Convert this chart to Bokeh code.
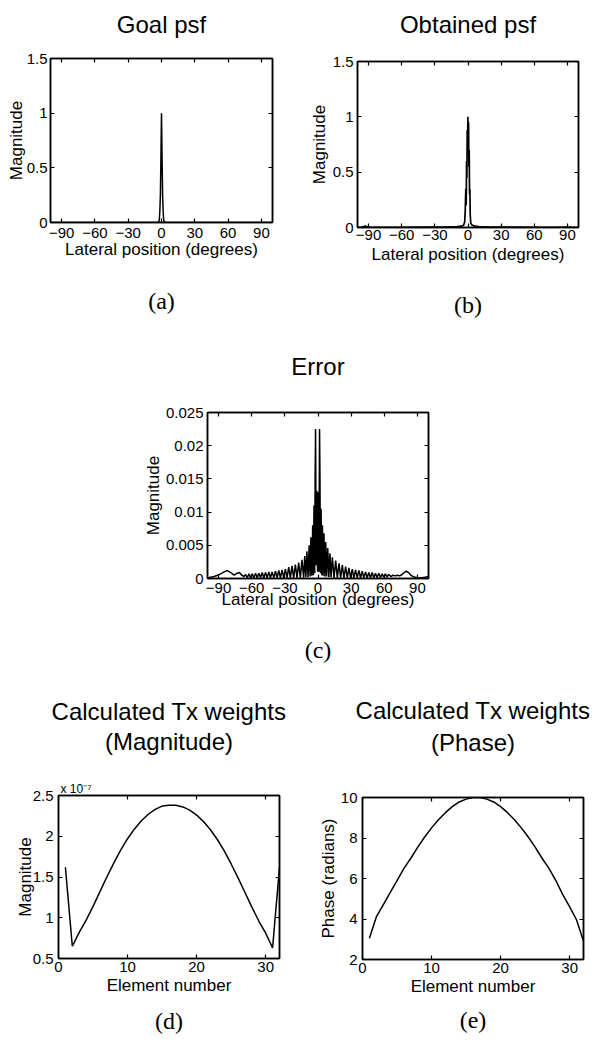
from bokeh.plotting import figure
from bokeh.layouts import column, row
from bokeh.models import LinearAxis, FixedTicker, Range1d, Title
from bokeh.embed import file_html
from bokeh.resources import INLINE

# ---------------- data ----------------
lateral_ticks = [-90, -60, -30, 0, 30, 60, 90]
psf_ticks = [0, 0.5, 1, 1.5]
psf_tick_labels = ["0", "0.5", "1", "1.5"]
err_ticks = [0, 0.005, 0.01, 0.015, 0.02, 0.025]
err_tick_labels = ["0", "0.005", "0.01", "0.015", "0.02", "0.025"]
elem_ticks = [0, 10, 20, 30]
mag_ticks = [0.5, 1, 1.5, 2, 2.5]
mag_tick_labels = ["0.5", "1", "1.5", "2", "2.5"]
phase_ticks = [2, 4, 6, 8, 10]
phase_tick_labels = ["2", "4", "6", "8", "10"]

# (a) goal psf
goal_x = [-100, -3, -2, -1.5, -1, -0.5, 0, 0.5, 1, 1.5, 2, 3, 100]
goal_y = [0, 0, 0.02, 0.1, 0.25, 0.6, 1.0, 0.6, 0.25, 0.1, 0.02, 0, 0]

# (b) obtained psf
obt_x = [-100, -96, -93, -91, -88, -80, -60, -40, -20, -10,
         -6, -4, -3, -2.5, -2, -1.6, -1.3, -1.0, -0.7, -0.4,
         -0.1, 0.2, 0.5, 0.8, 1.1, 1.4, 1.7, 2.0, 2.5, 3,
         4, 6, 10, 20, 40, 60, 80, 90, 95, 100]
obt_y = [0.0, 0.003, 0.012, 0.005, 0.002, 0.002, 0.002, 0.003, 0.004, 0.008,
         0.012, 0.02, 0.05, 0.15, 0.35, 0.2, 0.6, 0.45, 0.88, 0.7,
         1.0, 0.8, 0.95, 0.55, 0.7, 0.3, 0.35, 0.12, 0.04, 0.03,
         0.02, 0.012, 0.008, 0.004, 0.003, 0.002, 0.002, 0.003, 0.002, 0.0]

# (c) error
err_x = [-100, -97, -94, -91, -88, -85, -82, -79, -76, -73,
         -71, -69, -67, -65.5, -64, -62.5, -61, -59.5, -58, -56.5,
         -55, -53.5, -52, -50.5, -49, -47.5, -46, -44.5, -43, -41.5,
         -40, -38.5, -37, -35.5, -34, -32.5, -31, -29.5, -28, -26.5,
         -25, -23.5, -22, -20.5, -19, -17.5, -16, -14.5, -13, -12,
         -11, -10, -9, -8, -7.2, -6.4, -5.6, -4.8, -4.2, -3.6,
         -3.0, -2.6, -2.2, -1.6, -1.0, -0.4, 0.2, 0.8, 1.4, 1.8,
         2.2, 2.8, 3.4, 4.0, 4.6, 5.4, 6.2, 7.0, 7.8, 8.8,
         9.8, 10.8, 11.8, 13.0, 14.5, 16, 17.5, 19, 20.5, 22,
         23.5, 25, 26.5, 28, 29.5, 31, 32.5, 34, 35.5, 37,
         38.5, 40, 41.5, 43, 44.5, 46, 47.5, 49, 50.5, 52,
         53.5, 55, 56.5, 58, 59.5, 61, 62.5, 64, 66, 68,
         70, 72, 74, 76, 78, 80, 82, 84, 86, 88,
         91, 94, 97, 100]
err_y = [0.0001, 0.0002, 0.0003, 0.0005, 0.0007, 0.0010, 0.0012, 0.0009, 0.0005, 0.0008,
         0.0009, 0.0005, 0.0003, 0.0006, 0.0001, 0.0007, 0.0001, 0.0007, 0.0001, 0.0008,
         0.0001, 0.0008, 0.0001, 0.0009, 0.0001, 0.0009, 0.0001, 0.0010, 0.0001, 0.0010,
         0.0001, 0.0011, 0.0001, 0.0012, 0.0001, 0.0013, 0.0001, 0.0014, 0.0001, 0.0017,
         0.0001, 0.0019, 0.0001, 0.0021, 0.0001, 0.0024, 0.0001, 0.0028, 0.0001, 0.0034,
         0.0002, 0.0041, 0.0002, 0.0050, 0.0003, 0.0062, 0.0004, 0.0080, 0.0005, 0.0110,
         0.0008, 0.0150, 0.0225, 0.0020, 0.0132, 0.0010, 0.0130, 0.0010, 0.0225, 0.0150,
         0.0008, 0.0105, 0.0005, 0.0080, 0.0004, 0.0068, 0.0003, 0.0055, 0.0003, 0.0046,
         0.0002, 0.0038, 0.0002, 0.0032, 0.0001, 0.0027, 0.0001, 0.0023, 0.0001, 0.0020,
         0.0001, 0.0018, 0.0001, 0.0016, 0.0001, 0.0014, 0.0001, 0.0013, 0.0001, 0.0012,
         0.0001, 0.0011, 0.0001, 0.0010, 0.0001, 0.0009, 0.0001, 0.0009, 0.0001, 0.0008,
         0.0001, 0.0008, 0.0001, 0.0007, 0.0002, 0.0007, 0.0002, 0.0006, 0.0003, 0.0005,
         0.0004, 0.0005, 0.0004, 0.0006, 0.0009, 0.0011, 0.0009, 0.0005, 0.0003, 0.0002,
         0.0001, 0.0001, 0.0002, 0.0003]

# (d), (e) transmit weights per element
element = [1, 2, 3, 4, 5, 6, 7, 8, 9, 10, 11, 12, 13, 14, 15, 16,
           17, 18, 19, 20, 21, 22, 23, 24, 25, 26, 27, 28, 29, 30, 31, 32]
mag_e7 = [1.62, 0.65, 0.82, 0.97, 1.14, 1.32, 1.50, 1.67, 1.83, 1.97, 2.09, 2.19,
          2.27, 2.33, 2.37, 2.38, 2.38, 2.36, 2.32, 2.26, 2.18, 2.08, 1.96, 1.82,
          1.66, 1.49, 1.31, 1.13, 0.96, 0.81, 0.63, 1.62]
phase = [3.05, 4.10, 4.70, 5.30, 5.90, 6.50, 7.00, 7.55, 8.05, 8.50, 8.90, 9.25,
         9.55, 9.78, 9.92, 10.0, 10.0, 9.92, 9.78, 9.55, 9.25, 8.90, 8.50, 8.05,
         7.55, 7.00, 6.50, 5.90, 5.20, 4.60, 3.95, 2.90]

SANS = "Liberation Sans"
SERIF = "Liberation Serif"


def style_axis(ax, label_standoff, axis_label_standoff):
    ax.major_label_text_font = SANS
    ax.major_label_text_font_size = "15px"
    ax.major_label_text_color = "black"
    ax.major_label_standoff = label_standoff
    ax.axis_label_text_font = SANS
    ax.axis_label_text_font_size = "17px"
    ax.axis_label_text_font_style = "normal"
    ax.axis_label_text_color = "black"
    ax.axis_label_standoff = axis_label_standoff
    ax.axis_line_color = "black"
    ax.axis_line_width = 1.5
    ax.major_tick_in = 4
    ax.major_tick_out = 0
    ax.major_tick_line_color = "black"
    ax.major_tick_line_width = 1.2
    ax.minor_tick_line_color = None


def hide_labels(ax):
    ax.major_label_text_color = None
    ax.major_label_text_font_size = "1px"
    ax.major_label_standoff = 0


def label_axis(ticks, text, font, size, standoff):
    ax = LinearAxis(ticker=FixedTicker(ticks=ticks), axis_label=text)
    ax.axis_line_color = None
    ax.major_tick_line_color = None
    ax.minor_tick_line_color = None
    ax.major_tick_in = 0
    ax.major_tick_out = 0
    hide_labels(ax)
    ax.axis_label_text_font = font
    ax.axis_label_text_font_size = size
    ax.axis_label_text_font_style = "normal"
    ax.axis_label_text_color = "black"
    ax.axis_label_standoff = standoff
    return ax


def panel(w, h, bl, br, bt, bb, xr, yr, xticks, yticks, ylabels,
          xlabel, ylabel, xstd, xlstd, ystd, ylstd, top_label="", top_std=0):
    p = figure(width=w, height=h, x_range=Range1d(*xr), y_range=Range1d(*yr),
               output_backend="svg", toolbar_location=None, title=None,
               min_border_left=bl, min_border_right=br,
               min_border_top=bt, min_border_bottom=bb, frame_align=False)
    p.grid.visible = False
    p.outline_line_color = "black"
    p.outline_line_width = 1.5
    p.background_fill_color = "white"
    p.border_fill_color = "white"
    p.xaxis.ticker = FixedTicker(ticks=xticks)
    p.yaxis.ticker = FixedTicker(ticks=yticks)
    p.yaxis.major_label_overrides = dict(zip(yticks, ylabels))
    p.xaxis.axis_label = xlabel
    p.yaxis.axis_label = ylabel
    for a in p.xaxis:
        style_axis(a, xstd, xlstd)
    for a in p.yaxis:
        style_axis(a, ystd, ylstd)
    top = LinearAxis(ticker=FixedTicker(ticks=xticks))
    style_axis(top, 0, top_std)
    hide_labels(top)
    top.axis_label = top_label
    top.axis_label_text_font_size = "24px"
    p.add_layout(top, "above")
    right = LinearAxis(ticker=FixedTicker(ticks=yticks))
    style_axis(right, 0, 0)
    hide_labels(right)
    p.add_layout(right, "right")
    return p


LAT = "Lateral position (degrees)"

# (a)
pa = panel(299, 342, 50, 27, 58, 120, (-100, 100), (0, 1.5), lateral_ticks,
           psf_ticks, psf_tick_labels, LAT, "Magnitude", 5, -1, 3, -2,
           top_label="Goal psf", top_std=21)
pa.line(goal_x, goal_y, line_color="black", line_width=1.5)
pa.add_layout(label_axis(lateral_ticks, "(a)", SERIF, "24px", 26), "below")

# (b)
pb = panel(299, 342, 58, 20, 61, 115, (-100, 100), (0, 1.5), lateral_ticks,
           psf_ticks, psf_tick_labels, LAT, "Magnitude", 2, 2, 4, 1,
           top_label="Obtained psf", top_std=24)
pb.line(obt_x, obt_y, line_color="black", line_width=1.7)
pb.add_layout(label_axis(lateral_ticks, "(b)", SERIF, "24px", 25), "below")

# (c)
pc = panel(598, 323, 207, 170, 70, 86, (-100, 100), (0, 0.025), lateral_ticks,
           err_ticks, err_tick_labels, LAT, "Magnitude", 4, -6, 4, 0,
           top_label="Error", top_std=33)
pc.line(err_x, err_y, line_color="black", line_width=1.5)
pc.add_layout(label_axis(lateral_ticks, "(c)", SERIF, "24px", 25), "below")

# (d)
pd = panel(299, 375, 58, 20, 130, 82, (0, 32), (0.5, 2.5), elem_ticks,
           mag_ticks, mag_tick_labels, "Element number", "Magnitude", 3, 1, 5, -5)
pd.line(element, mag_e7, line_color="black", line_width=1.5)
pd.add_layout(Title(text="x 10\u207b\u2077", align="left", offset=2, standoff=0,
                    text_font=SANS, text_font_size="12px", text_font_style="normal",
                    text_color="black"), "above")
pd.add_layout(label_axis(elem_ticks, "(Magnitude)", SANS, "24px", 25), "above")
pd.add_layout(label_axis(elem_ticks, "Calculated Tx weights", SANS, "24px", 0), "above")
pd.add_layout(label_axis(elem_ticks, "(d)", SERIF, "24px", 10), "below")

# (e)
pe = panel(299, 375, 63, 15, 132, 81, (0, 32), (2, 10), elem_ticks,
           phase_ticks, phase_tick_labels, "Element number", "Phase (radians)", 3, 1, 5, 0,
           top_label="(Phase)", top_std=42)
pe.line(element, phase, line_color="black", line_width=1.5)
pe.add_layout(label_axis(elem_ticks, "Calculated Tx weights", SANS, "24px", 2), "above")
pe.add_layout(label_axis(elem_ticks, "(e)", SERIF, "24px", 8), "below")

layout = column(row(pa, pb), pc, row(pd, pe))
open("out.html", "w").write(file_html(layout, INLINE))
